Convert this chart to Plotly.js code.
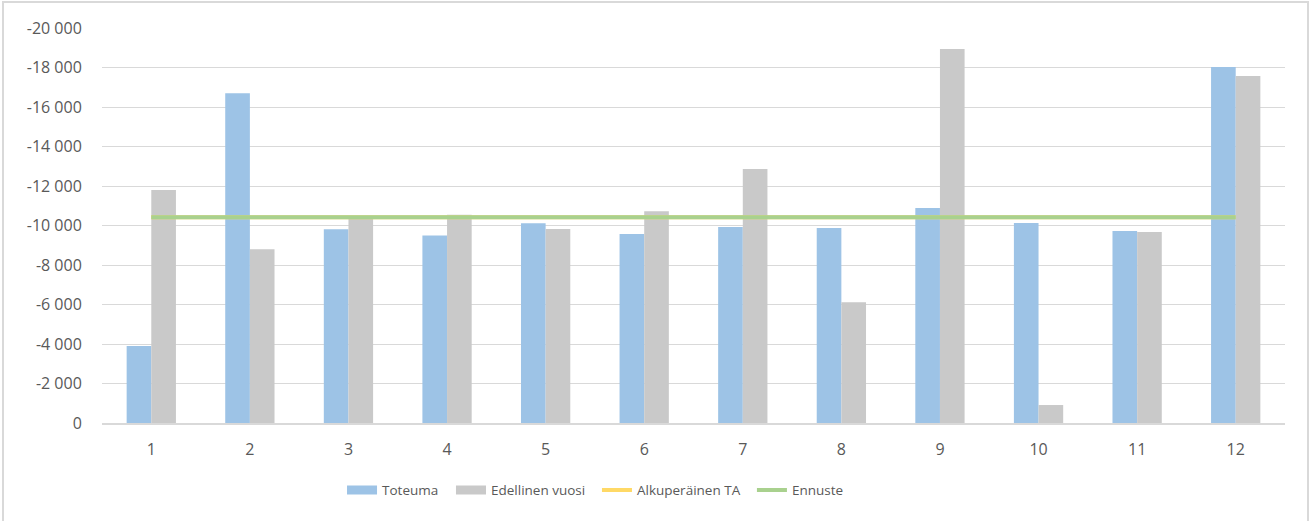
<!DOCTYPE html>
<html>
<head>
<meta charset="utf-8">
<script src="https://cdn.plot.ly/plotly-3.0.1.min.js"></script>
<style>
  html, body { margin: 0; padding: 0; background: #fff; }
  #wrap { position: relative; width: 1313px; height: 521px; overflow: hidden; }
  #frame { position: absolute; left: 2px; top: 1px; width: 1307px; height: 540px; border: 2px solid #d9d9d9; box-sizing: border-box; pointer-events: none; }
  #chart { position: absolute; left: 0; top: 0; width: 1313px; height: 521px; }
</style>
</head>
<body>
<div id="wrap">
  <div id="chart"></div>
  <div id="frame"></div>
</div>
<script>
const months = ['1','2','3','4','5','6','7','8','9','10','11','12'];
const toteuma = [-3900, -16700, -9810, -9500, -10110, -9570, -9920, -9870, -10890, -10130, -9720, -18030];
const edellinenVuosi = [-11800, -8800, -10400, -10550, -9820, -10720, -12860, -6110, -18940, -910, -9670, -17570];
const alkuperainenTA = [-10420, -10420, -10420, -10420, -10420, -10420, -10420, -10420, -10420, -10420, -10420, -10420];
const ennuste = [-10420, -10420, -10420, -10420, -10420, -10420, -10420, -10420, -10420, -10420, -10420, -10420];
const yTickVals = [0, -2000, -4000, -6000, -8000, -10000, -12000, -14000, -16000, -18000, -20000];
const yTickText = ['0', '-2 000', '-4 000', '-6 000', '-8 000', '-10 000', '-12 000', '-14 000', '-16 000', '-18 000', '-20 000'];

const fam = '"Open Sans", "Noto Sans", sans-serif';
const tickFont = { family: fam, size: 16, color: '#595959' };
const legFont = { family: fam, size: 13.5, color: '#595959' };

const BLUE = '#9dc3e6', GREY = '#c9c9c9', YELLOW = '#ffd966', GREEN = '#a9d18e';

const traces = [
  { type: 'bar', name: 'Toteuma', x: months, y: toteuma, marker: { color: BLUE }, showlegend: false },
  { type: 'bar', name: 'Edellinen vuosi', x: months, y: edellinenVuosi, marker: { color: GREY }, showlegend: false },
  { type: 'scatter', mode: 'lines', name: 'Alkuperäinen TA', x: months, y: alkuperainenTA, line: { color: YELLOW, width: 4 }, legend: 'legend3' },
  { type: 'scatter', mode: 'lines', name: 'Ennuste', x: months, y: ennuste, line: { color: GREEN, width: 4 }, legend: 'legend4' },
  // legend keys for the bar series (wide flat swatches like the original)
  { type: 'scatter', mode: 'lines', name: 'Toteuma', x: [null], y: [null], line: { color: BLUE, width: 9 }, legend: 'legend' },
  { type: 'scatter', mode: 'lines', name: 'Edellinen vuosi', x: [null], y: [null], line: { color: GREY, width: 9 }, legend: 'legend2' }
];

function leg(x) {
  return { orientation: 'h', x: x, xanchor: 'left', y: -0.17, yanchor: 'middle', font: legFont, itemwidth: 30, bgcolor: 'rgba(0,0,0,0)' };
}

const layout = {
  width: 1313,
  height: 521,
  margin: { l: 102, r: 28, t: 28, b: 98 },
  paper_bgcolor: '#ffffff',
  plot_bgcolor: '#ffffff',
  font: tickFont,
  barmode: 'group',
  bargap: 0.5,
  bargroupgap: 0,
  showlegend: true,
  legend: leg(0.2029),
  legend2: leg(0.2950),
  legend3: leg(0.4184),
  legend4: leg(0.5494),
  xaxis: {
    type: 'category',
    showgrid: false,
    showline: true,
    linecolor: '#d9d9d9',
    linewidth: 2,
    ticks: 'outside',
    ticklen: 11,
    tickcolor: 'rgba(0,0,0,0)',
    tickfont: tickFont,
    zeroline: false
  },
  yaxis: {
    range: [0, -20000],
    tickvals: yTickVals,
    ticktext: yTickText,
    showgrid: true,
    gridcolor: '#d9d9d9',
    gridwidth: 1,
    showline: false,
    zeroline: false,
    ticks: 'outside',
    ticklen: 16,
    tickcolor: 'rgba(0,0,0,0)',
    tickfont: tickFont
  }
};

Plotly.newPlot('chart', traces, layout, { displayModeBar: false, staticPlot: true });
</script>
</body>
</html>
